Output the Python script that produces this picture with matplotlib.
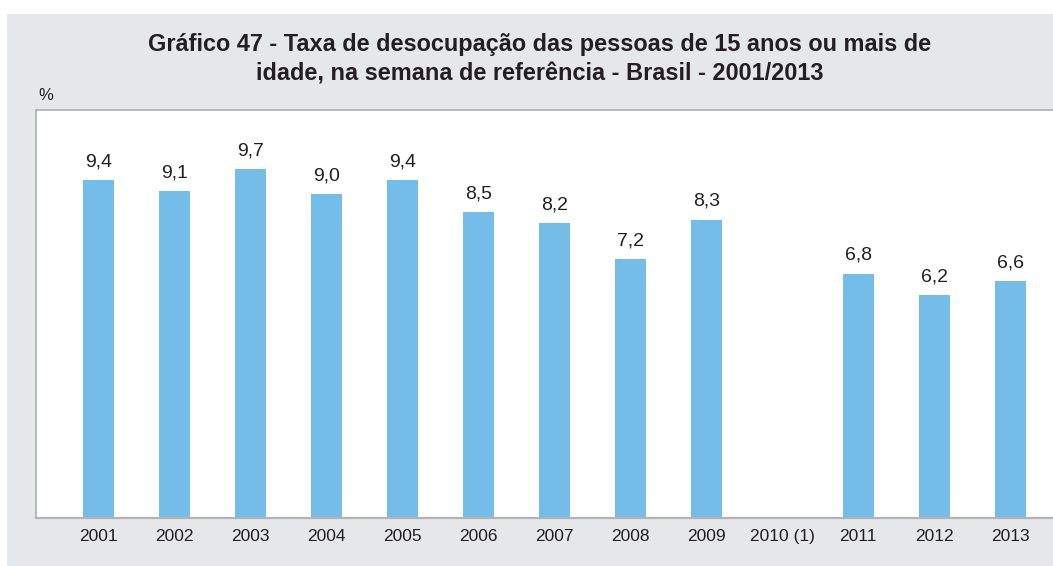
import numpy as np
import matplotlib.pyplot as plt
from matplotlib.patches import Rectangle

anos = ['2001', '2002', '2003', '2004', '2005', '2006', '2007',
        '2008', '2009', '2010 (1)', '2011', '2012', '2013']
taxa = [9.4, 9.1, 9.7, 9.0, 9.4, 8.5, 8.2, 7.2, 8.3, np.nan, 6.8, 6.2, 6.6]

W, H = 1053, 566
fig = plt.figure(figsize=(W/100, H/100), dpi=100)
fig.patch.set_facecolor('white')

# painel cinza de fundo
fig.patches.append(Rectangle((7/W, 0), 1, 1 - 14/H, transform=fig.transFigure,
                             facecolor='#e6e7e9', edgecolor='none', zorder=-10))

ax = fig.add_axes([36/W, 1 - 518/H, 1 - 36/W + 0.01, (518 - 110)/H])
ax.set_facecolor('white')
ax.set_zorder(5)

x = np.arange(len(anos))
ax.bar(x, np.nan_to_num(taxa), width=0.41, color='#74bde8', zorder=2)

for xi, v in zip(x, taxa):
    if np.isnan(v):
        continue
    ax.annotate(f'{v:.1f}'.replace('.', ','), (xi, v), xytext=(0, 7),
                textcoords='offset points', ha='center', va='bottom',
                fontsize=14, color='#231f20', family='Liberation Sans')

ax.set_xlim(-0.822, 12.70)
ax.set_ylim(0, 11.35)
ax.set_xticks(x)
ax.set_xticklabels(anos, fontsize=12.5, color='#231f20', family='Liberation Sans')
ax.tick_params(axis='x', length=0, pad=8)
ax.set_yticks([])
ax.spines['right'].set_visible(False)
for lado in ['left', 'top', 'bottom']:
    ax.spines[lado].set_color('#b1b3b6')
    ax.spines[lado].set_linewidth(1.3)
ax.spines['bottom'].set_linewidth(1.6)

fig.text(540/W, 1 - 59/H,
         'Gráfico 47 - Taxa de desocupação das pessoas de 15 anos ou mais de\n'
         'idade, na semana de referência - Brasil - 2001/2013',
         ha='center', va='center', fontsize=16.9, fontweight='bold',
         color='#231f20', linespacing=1.35, family='Liberation Sans')
fig.text(38/W, 1 - 95/H, '%', ha='left', va='center', fontsize=12,
         color='#231f20', family='Liberation Sans')

fig.savefig('out.png', dpi=100)
